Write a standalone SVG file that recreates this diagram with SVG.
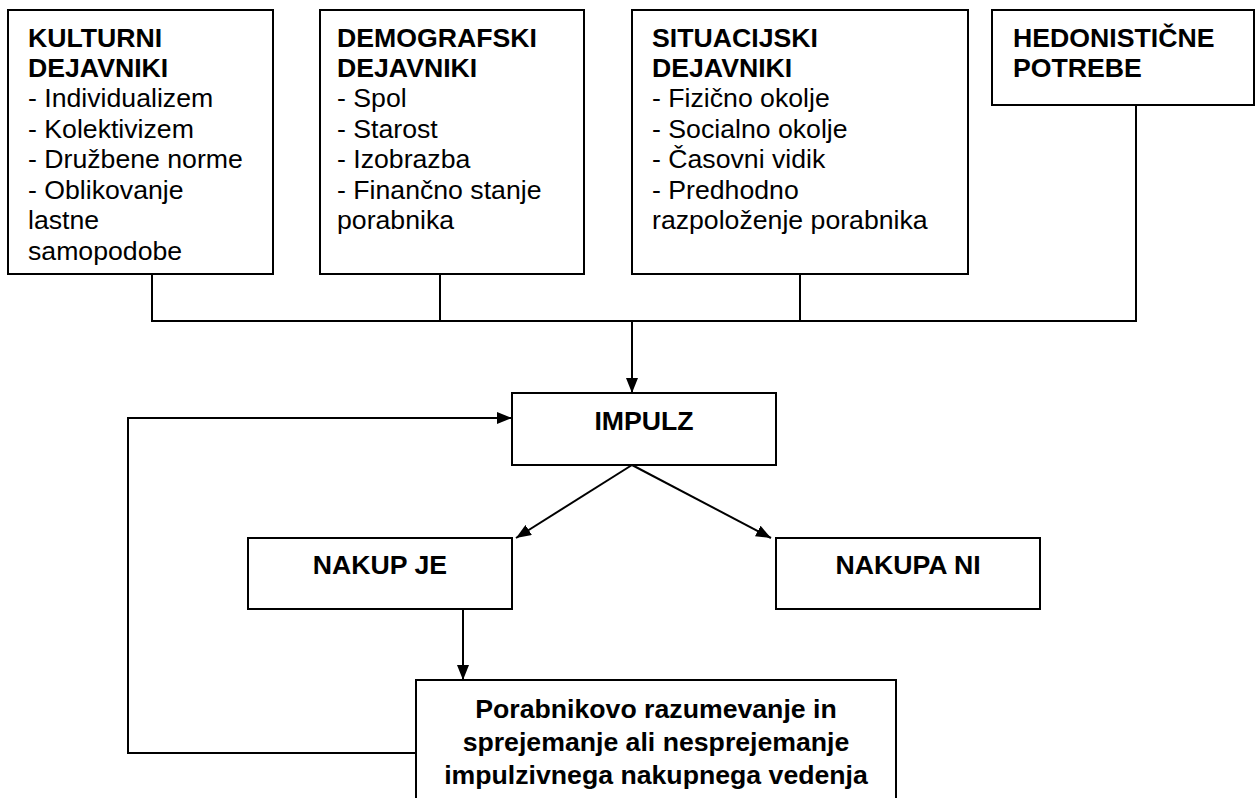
<svg xmlns="http://www.w3.org/2000/svg" width="1256" height="798" viewBox="0 0 1256 798">
  <defs>
    <marker id="ah" markerUnits="userSpaceOnUse" markerWidth="15" markerHeight="12" refX="15" refY="6" orient="auto">
      <path d="M0,0 L15,6 L0,12 z" fill="#000"/>
    </marker>
    <style>
      .box { fill: #fff; stroke: #000; stroke-width: 2; }
      .ln { fill: none; stroke: #000; stroke-width: 2; }
      .t { font-family: "Liberation Sans", Arial, sans-serif; font-size: 26.67px; fill: #000; }
      .b { font-weight: bold; }
      .c { text-anchor: middle; }
    </style>
  </defs>
  <rect width="1256" height="798" fill="#fff"/>

  <g id="connectors">
    <polyline class="ln" points="152,274 152,321 1136,321 1136,105"/>
    <line class="ln" x1="440" y1="274" x2="440" y2="321"/>
    <line class="ln" x1="800" y1="274" x2="800" y2="321"/>
    <line class="ln" x1="632" y1="321" x2="632" y2="393" marker-end="url(#ah)"/>
    <line class="ln" x1="632" y1="465" x2="516" y2="538" marker-end="url(#ah)"/>
    <line class="ln" x1="632" y1="465" x2="771" y2="538" marker-end="url(#ah)"/>
    <line class="ln" x1="463" y1="609" x2="463" y2="680" marker-end="url(#ah)"/>
    <polyline class="ln" points="416,753 128,753 128,418 512,418" marker-end="url(#ah)"/>
  </g>

  <g id="kulturni">
    <rect class="box" x="8" y="10" width="265" height="264"/>
    <text class="t b" x="28" y="47">KULTURNI</text>
    <text class="t b" x="28" y="77">DEJAVNIKI</text>
    <text class="t" x="28" y="107">- Individualizem</text>
    <text class="t" x="28" y="138">- Kolektivizem</text>
    <text class="t" x="28" y="168">- Družbene norme</text>
    <text class="t" x="28" y="199">- Oblikovanje</text>
    <text class="t" x="28" y="229">lastne</text>
    <text class="t" x="28" y="260">samopodobe</text>
  </g>

  <g id="demografski">
    <rect class="box" x="320" y="10" width="264" height="264"/>
    <text class="t b" x="337" y="47">DEMOGRAFSKI</text>
    <text class="t b" x="337" y="77">DEJAVNIKI</text>
    <text class="t" x="337" y="107">- Spol</text>
    <text class="t" x="337" y="138">- Starost</text>
    <text class="t" x="337" y="168">- Izobrazba</text>
    <text class="t" x="337" y="199">- Finančno stanje</text>
    <text class="t" x="337" y="229">porabnika</text>
  </g>

  <g id="situacijski">
    <rect class="box" x="632" y="10" width="336" height="264"/>
    <text class="t b" x="652" y="47">SITUACIJSKI</text>
    <text class="t b" x="652" y="77">DEJAVNIKI</text>
    <text class="t" x="652" y="107">- Fizično okolje</text>
    <text class="t" x="652" y="138">- Socialno okolje</text>
    <text class="t" x="652" y="168">- Časovni vidik</text>
    <text class="t" x="652" y="199">- Predhodno</text>
    <text class="t" x="652" y="229">razpoloženje porabnika</text>
  </g>

  <g id="hedonisticne">
    <rect class="box" x="992" y="10" width="262" height="95"/>
    <text class="t b" x="1013" y="47">HEDONISTIČNE</text>
    <text class="t b" x="1013" y="77">POTREBE</text>
  </g>

  <g id="impulz">
    <rect class="box" x="512" y="393" width="264" height="72"/>
    <text class="t b c" x="644" y="430">IMPULZ</text>
  </g>

  <g id="nakup-je">
    <rect class="box" x="248" y="538" width="264" height="71"/>
    <text class="t b c" x="380" y="574">NAKUP JE</text>
  </g>

  <g id="nakupa-ni">
    <rect class="box" x="776" y="538" width="264" height="71"/>
    <text class="t b c" x="908" y="574">NAKUPA NI</text>
  </g>

  <g id="razumevanje">
    <rect class="box" x="416" y="680" width="480" height="140"/>
    <text class="t b c" x="656" y="718">Porabnikovo razumevanje in</text>
    <text class="t b c" x="656" y="751">sprejemanje ali nesprejemanje</text>
    <text class="t b c" x="656" y="784">impulzivnega nakupnega vedenja</text>
  </g>
</svg>
